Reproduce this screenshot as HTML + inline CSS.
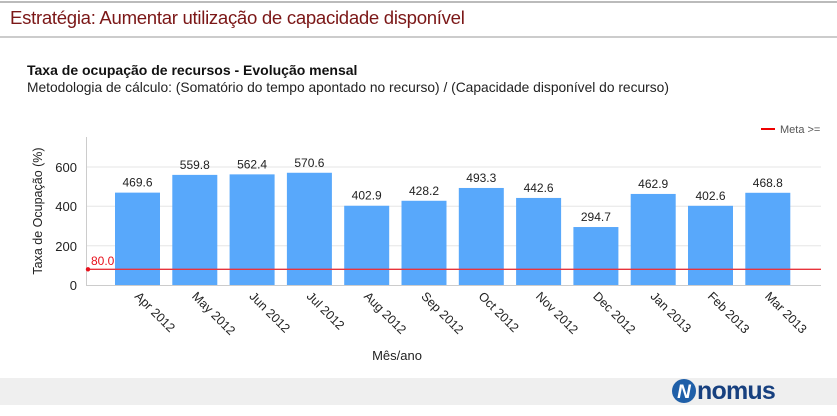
<!DOCTYPE html><html><head><meta charset="utf-8"><style>
body{margin:0;width:837px;height:416px;background:#fff;font-family:"Liberation Sans",sans-serif;overflow:hidden;position:relative}
.t{position:absolute;white-space:nowrap}
</style></head><body>
<div style="position:absolute;left:0;top:1px;width:837px;height:2px;background:#bbb"></div>
<div class="t" style="left:10px;top:7px;font-size:18.6px;color:#7b1717;letter-spacing:-0.3px">Estratégia: Aumentar utilização de capacidade disponível</div>
<div style="position:absolute;left:0;top:36px;width:837px;height:2px;background:#ccc"></div>
<div class="t" style="left:27px;top:62px;font-size:14px;font-weight:bold;color:#111">Taxa de ocupação de recursos - Evolução mensal</div>
<div class="t" style="left:27px;top:80px;font-size:13.8px;color:#222">Metodologia de cálculo: (Somatório do tempo apontado no recurso) / (Capacidade disponível do recurso)</div>
<div style="position:absolute;left:0;top:378px;width:837px;height:27px;background:#efefef"></div>
<svg width="837" height="416" style="position:absolute;left:0;top:0" font-family="Liberation Sans,sans-serif">
<g stroke="#e6e6e6"><line x1="86" x2="821" y1="167" y2="167"/><line x1="86" x2="821" y1="206.3" y2="206.3"/><line x1="86" x2="821" y1="245.7" y2="245.7"/></g>
<line x1="86.5" x2="86.5" y1="137" y2="285" stroke="#ccc"/>
<line x1="86" x2="821" y1="285.5" y2="285.5" stroke="#ccc"/>
<g font-size="13" fill="#222" text-anchor="end"><text x="77" y="172">600</text><text x="77" y="211">400</text><text x="77" y="251">200</text><text x="77" y="290">0</text></g>
<text transform="translate(42,211) rotate(-90)" text-anchor="middle" font-size="12.5" fill="#222">Taxa de Ocupação (%)</text>
<g fill="#58a8fb" id="b"></g>
<g font-size="12" fill="#222" text-anchor="middle" id="v"></g>
<g font-size="12.5" fill="#222" id="x"></g>
<line x1="86" x2="821" y1="269.3" y2="269.3" stroke="#e8343c" stroke-width="1.3"/>
<circle cx="88" cy="269.3" r="2.2" fill="#e8101c"/>
<text x="91" y="265" font-size="12" fill="#e8101c">80.0</text>
<line x1="761" x2="775" y1="129" y2="129" stroke="#e00" stroke-width="2"/>
<text x="780" y="133" font-size="11" fill="#555">Meta &gt;=</text>
<text x="397" y="360" text-anchor="middle" font-size="13" fill="#222">Mês/ano</text>
<circle cx="684" cy="391" r="12" fill="#1f5fa8"/>
<text x="684" y="398" text-anchor="middle" font-size="19" font-weight="bold" fill="#fff" font-style="italic">N</text>
<text x="697" y="399" font-size="25" font-weight="bold" fill="#17407f" letter-spacing="-0.8">nomus</text>
</svg>
<script>
var v=[469.6,559.8,562.4,570.6,402.9,428.2,493.3,442.6,294.7,462.9,402.6,468.8];
var l=["Apr 2012","May 2012","Jun 2012","Jul 2012","Aug 2012","Sep 2012","Oct 2012","Nov 2012","Dec 2012","Jan 2013","Feb 2013","Mar 2013"];
var ns="http://www.w3.org/2000/svg",b=document.getElementById('b'),t=document.getElementById('v'),x=document.getElementById('x');
v.forEach(function(d,i){var x0=115+i*57.3,h=d*0.1967,y=285-h;
var r=document.createElementNS(ns,'rect');r.setAttribute('x',x0);r.setAttribute('y',y);r.setAttribute('width',45);r.setAttribute('height',h);b.appendChild(r);
var s=document.createElementNS(ns,'text');s.setAttribute('x',x0+22.5);s.setAttribute('y',y-6);s.textContent=d.toFixed(1);t.appendChild(s);
var q=document.createElementNS(ns,'text');q.setAttribute('transform','translate('+(x0+19)+',297) rotate(45)');q.textContent=l[i];x.appendChild(q);});
</script>
</body></html>
